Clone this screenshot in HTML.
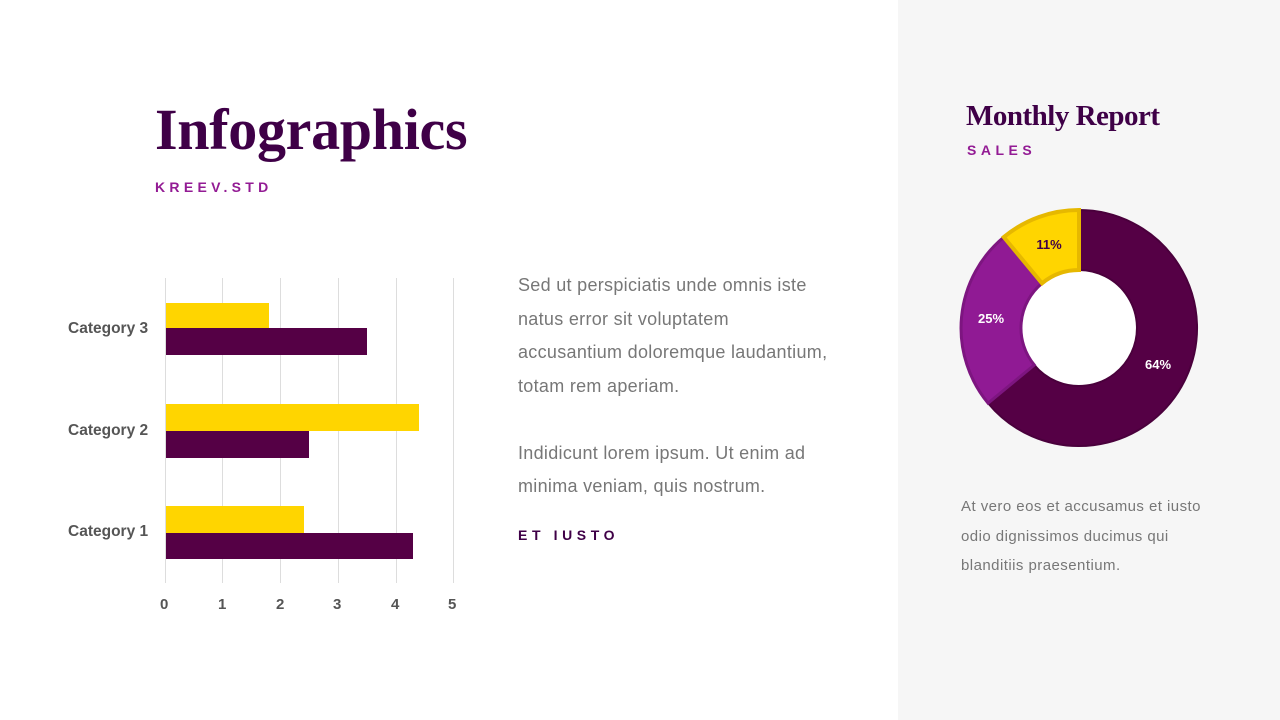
<!DOCTYPE html>
<html><head><meta charset="utf-8"><style>
*{margin:0;padding:0}
body{width:1280px;height:720px;position:relative;background:#fff;font-family:"Liberation Sans",sans-serif;overflow:hidden}
.abs{position:absolute;white-space:nowrap}
.side{left:898px;top:0;width:382px;height:720px;background:#f6f6f6}
.title{left:155px;top:96px;font-family:"Liberation Serif",serif;font-weight:bold;font-size:58px;color:#3f0047;letter-spacing:-0.3px}
.sub{font-weight:bold;font-size:14px;letter-spacing:4.3px;color:#931b94}
.para{left:518px;top:269px;font-size:18px;line-height:33.5px;color:#777;letter-spacing:0.3px}
.cat{font-size:15.5px;font-weight:bold;color:#555;left:68px}
.tick{font-size:15px;font-weight:bold;color:#555;top:596px}
</style></head><body>
<div class="abs side"></div>
<div class="abs title">Infographics</div>
<div class="abs sub" style="left:155px;top:179px">KREEV.STD</div>

<svg class="abs" style="left:0;top:0" width="898" height="720">
<g stroke="#ddd" stroke-width="1">
<line x1="165.5" y1="278" x2="165.5" y2="583"/><line x1="222.5" y1="278" x2="222.5" y2="583"/><line x1="280.5" y1="278" x2="280.5" y2="583"/><line x1="338.5" y1="278" x2="338.5" y2="583"/><line x1="396.5" y1="278" x2="396.5" y2="583"/><line x1="453.5" y1="278" x2="453.5" y2="583"/>
</g>
<rect x="166" y="303" width="103" height="25" fill="#ffd500"/>
<rect x="166" y="328" width="201" height="27" fill="#550045"/>
<rect x="166" y="404" width="253" height="27" fill="#ffd500"/>
<rect x="166" y="431" width="143" height="27" fill="#550045"/>
<rect x="166" y="506" width="138" height="27" fill="#ffd500"/>
<rect x="166" y="533" width="247" height="26" fill="#550045"/>
</svg>
<div class="abs cat" style="top:320px">Category 3</div>
<div class="abs cat" style="top:422px">Category 2</div>
<div class="abs cat" style="top:523px">Category 1</div>
<div class="abs tick" style="left:160px">0</div>
<div class="abs tick" style="left:218px">1</div>
<div class="abs tick" style="left:276px">2</div>
<div class="abs tick" style="left:333px">3</div>
<div class="abs tick" style="left:391px">4</div>
<div class="abs tick" style="left:448px">5</div>

<div class="abs para">Sed ut perspiciatis unde omnis iste<br>natus error sit voluptatem<br>accusantium doloremque laudantium,<br>totam rem aperiam.<br><br>Indidicunt lorem ipsum. Ut enim ad<br>minima veniam, quis nostrum.</div>
<div class="abs sub" style="left:518px;top:527px;color:#3f0047;letter-spacing:4.6px">ET IUSTO</div>

<div class="abs" style="left:966px;top:100px;font-family:'Liberation Serif',serif;font-weight:bold;font-size:29px;color:#3f0047;letter-spacing:-0.5px">Monthly Report</div>
<div class="abs sub" style="left:967px;top:142px;letter-spacing:4.5px">SALES</div>

<svg class="abs" style="left:0;top:0" width="1280" height="720">
<circle cx="1079" cy="328" r="60" fill="#fff"/>
<path d="M1079 210 A118 118 0 1 1 988.1 403.2 L1034.3 365 A58 58 0 1 0 1079 270 Z" fill="#550045" stroke="#4a003c" stroke-width="2"/>
<path d="M988.1 403.2 A118 118 0 0 1 1003.8 237.1 L1042 283.3 A58 58 0 0 0 1034.3 365 Z" fill="#901a94" stroke="#7d1580" stroke-width="3"/>
<path d="M1003.8 237.1 A118 118 0 0 1 1079 210 L1079 270 A58 58 0 0 0 1042 283.3 Z" fill="#ffd500" stroke="#e6b800" stroke-width="4"/>
<text x="1049" y="249" font-family="Liberation Sans" font-weight="bold" font-size="13" fill="#3f0047" text-anchor="middle">11%</text>
<text x="991" y="323" font-family="Liberation Sans" font-weight="bold" font-size="13" fill="#fff" text-anchor="middle">25%</text>
<text x="1158" y="369" font-family="Liberation Sans" font-weight="bold" font-size="13" fill="#fff" text-anchor="middle">64%</text>
</svg>

<div class="abs" style="left:961px;top:492px;font-size:15px;line-height:29.5px;color:#777;letter-spacing:0.45px">At vero eos et accusamus et iusto<br>odio dignissimos ducimus qui<br>blanditiis praesentium.</div>
</body></html>
